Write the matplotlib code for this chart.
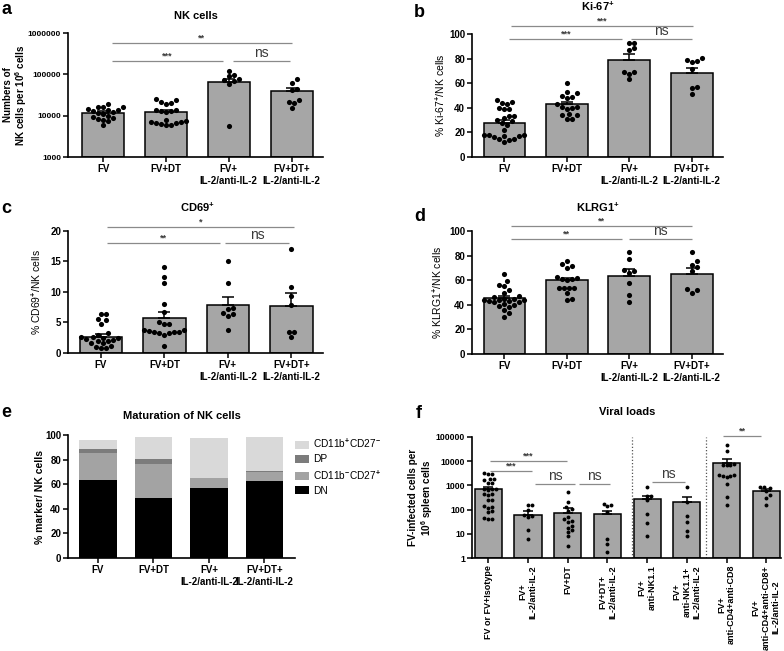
import numpy as np
import matplotlib
matplotlib.use("Agg")
import matplotlib.pyplot as plt
from matplotlib.patches import Patch

plt.rcParams['font.family'] = ['Liberation Sans', 'DejaVu Sans']
plt.rcParams['font.weight'] = 'bold'
plt.rcParams['mathtext.fontset'] = 'custom'
plt.rcParams['mathtext.rm'] = 'Liberation Sans'
plt.rcParams['mathtext.bf'] = 'Liberation Sans:bold'
plt.rcParams['mathtext.it'] = 'Liberation Sans:italic'

# ---------------- data ----------------
groups = ["FV", "FV+DT", "FV+\nIL-2/anti-IL-2", "FV+DT+\nIL-2/anti-IL-2"]

# a: NK cells per 10^6 cells
nk_mean = [11800, 12000, 67000, 39000]
nk_sem = [900, 1400, 11000, 7700]
nk_fv = [19000, 16500, 16500, 16000, 14500, 14000, 14000, 13000, 12500,
         11500, 11000, 10000, 9500, 9000, 8500, 8000, 7500, 6000]
nk_fvdt = [25500, 24500, 21000, 19500, 20500, 14000, 13500, 13000, 13000,
           12500, 8000, 7500, 7000, 7000, 6500, 6500, 6000, 6000, 6200]
nk_il2 = [120000, 95000, 90000, 75000, 72000, 70000, 58000, 5700]
nk_dtil2 = [77000, 63000, 43000, 41000, 24000, 22000, 20000, 15500]

# b: % Ki-67+
ki_mean = [27.4, 42.8, 78.6, 68.6]
ki_sem = [2.3, 2.2, 4.9, 4.1]
ki_fv = [46, 45, 44, 43, 40, 39, 39, 33, 33, 32, 30, 29, 28, 26, 22,
         18, 18, 18, 17, 17, 16, 15, 15, 14, 12]
ki_fvdt = [60, 53, 52, 50, 49, 48, 43, 41, 41, 40, 39, 35, 34, 34, 31, 31]
ki_il2 = [92.6, 92.6, 88.5, 87.2, 68.7, 68.7, 67.6, 63.5]
ki_dtil2 = [80.4, 78.5, 77.7, 77.0, 71.4, 56.7, 55.9, 51.2]

# c: % CD69+
cd69_mean = [2.7, 5.7, 7.9, 7.7]
cd69_sem = [0.4, 1.0, 1.2, 2.1]
cd69_fv = [6.4, 6.4, 5.6, 5.4, 4.8, 3.2, 2.9, 2.7, 2.6, 2.5, 2.4, 2.3, 2.2,
           2.0, 1.9, 1.7, 1.6, 1.2, 1.0, 0.8, 0.8]
cd69_fvdt = [14.1, 12.4, 11.4, 8.0, 6.8, 5.0, 4.8, 4.8, 3.8, 3.7, 3.6, 3.5,
             3.5, 3.4, 3.3, 3.2, 3.0, 1.2]
cd69_il2 = [15.1, 11.5, 7.4, 7.2, 6.6, 6.4, 6.0, 3.8]
cd69_dtil2 = [17.1, 10.8, 9.3, 7.8, 3.4, 3.4, 2.6]

# d: % KLRG1+
klrg_mean = [45.3, 59.8, 63.3, 65.0]
klrg_sem = [1.9, 2.2, 5.5, 4.6]
klrg_fv = [65, 59, 56, 55, 52, 50, 47, 46, 45, 45, 44, 44, 44, 43, 43, 42,
           42, 41, 40, 39, 38, 36, 33, 30]
klrg_fvdt = [75.5, 73, 71.5, 70, 63, 62, 61, 61, 60, 54, 54, 54, 54, 50, 45, 44]
klrg_il2 = [83, 77, 68, 67.5, 65.5, 58, 48, 42]
klrg_dtil2 = [83, 75.5, 72.3, 71, 67.5, 52.6, 52, 49.5]

# e: maturation (stacked %)
mat_dn = [63.2, 48.4, 57.3, 62.2]
mat_cd27 = [22.4, 28.2, 7.4, 7.6]     # CD11b-CD27+
mat_dp = [2.7, 3.8, 0.5, 1.1]
mat_cd11b = [7.6, 18.2, 32.1, 27.7]   # CD11b+CD27-
mat_labels = ["CD11b$^{+}$CD27$^{-}$", "DP", "CD11b$^{-}$CD27$^{+}$", "DN"]

# f: viral loads
vl_groups = ["FV or FV+Isotype", "FV+\nIL-2/anti-IL-2", "FV+DT",
             "FV+DT+\nIL-2/anti-IL-2", "FV+\nanti-NK1.1",
             "FV+\nanti-NK1.1+\nIL-2/anti-IL-2", "FV+\nanti-CD4+anti-CD8",
             "FV+\nanti-CD4+anti-CD8+\nIL-2/anti-IL-2"]
vl_mean = [730, 60, 74, 68, 275, 200, 8200, 590]
vl_sem = [160, 27, 39, 22, 100, 140, 3800, 120]
vl_1 = [3200, 3000, 3100, 1800, 1700, 1900, 1300, 1250, 700, 680, 650, 720,
        450, 430, 420, 250, 240, 140, 130, 120, 85, 80, 42, 40, 44]
vl_2 = [160, 150, 100, 60, 55, 50, 15, 6]
vl_3 = [520, 200, 130, 110, 90, 50, 40, 35, 30, 22, 18, 15, 12, 8, 3]
vl_4 = [160, 140, 170, 80, 6, 3.7, 1.8]
vl_5 = [830, 380, 370, 250, 66, 27, 8.5]
vl_6 = [830, 200, 56, 30, 13, 8]
vl_7 = [47000, 26000, 7500, 7000, 6800, 7200, 2600, 2500, 2400, 2300, 2700,
        1140, 320, 155]
vl_8 = [900, 850, 800, 600, 400, 300, 160]

# ---------------- layout helpers ----------------
W, H = 784, 651
fig = plt.figure(figsize=(W / 100, H / 100), dpi=100)
BAR = '#a6a6a6'
SIG = '#8a8a8a'


def axes_px(l, t, r, b):
    return fig.add_axes([l / W, 1 - b / H, (r - l) / W, (b - t) / H])


def ftext(x, y, s, **kw):
    fig.text(x / W, 1 - y / H, s, **kw)


def swarm_x(ax, xc, vals, d_px, max_px):
    vals = np.asarray(vals, float)
    pts = ax.transData.transform(np.column_stack([np.full(len(vals), xc), vals]))
    x0 = pts[0, 0]
    ys = pts[:, 1]
    step = d_px / 2.0
    cands = [0.0]
    k = 1
    while k * step <= max_px + 1e-9:
        cands += [k * step, -k * step]
        k += 1
    px, py = [], []
    offs = np.zeros(len(vals))
    for i in np.argsort(ys):
        best, bestd, bestc = None, -1.0, 0.0
        for c in cands:
            if px:
                dist = np.min(np.hypot(np.array(px) - c, np.array(py) - ys[i]))
            else:
                dist = np.inf
            if dist >= d_px:
                best = c
                break
            if dist > bestd:
                bestd, bestc = dist, c
        if best is None:
            best = bestc
        offs[i] = best
        px.append(best)
        py.append(ys[i])
    inv = ax.transData.inverted()
    return inv.transform(np.column_stack([x0 + offs, ys]))[:, 0]


def style(ax, xfs, yfs):
    for s in ['top', 'right']:
        ax.spines[s].set_visible(False)
    for s in ['left', 'bottom']:
        ax.spines[s].set_linewidth(1.2)
    ax.tick_params(axis='both', direction='out', length=3.5, width=1.1, pad=1.5)
    ax.tick_params(axis='x', labelsize=xfs)
    ax.tick_params(axis='y', labelsize=yfs)
    ax.minorticks_off()


def dot_panel(ax, means, sems, points, ylim, yticks, log, xlim, width,
              ms, dpx, maxpx, capsize, xfs, yfs):
    x = np.arange(len(means))
    if log:
        ax.set_yscale('log')
    ax.set_ylim(*ylim)
    ax.set_xlim(*xlim)
    bottom = ylim[0]
    ax.bar(x, np.array(means) - bottom, bottom=bottom, width=width, color=BAR,
           edgecolor='black', linewidth=1.1, zorder=2)
    ax.errorbar(x, means, yerr=[np.zeros(len(means)), sems], fmt='none',
                ecolor='black', elinewidth=1.1, capsize=capsize, capthick=1.1,
                zorder=3)
    for xi, pts in zip(x, points):
        xs = swarm_x(ax, xi, pts, dpx, maxpx)
        ax.plot(xs, pts, 'o', color='black', ms=ms, mew=0, zorder=4,
                clip_on=False)
    ax.set_yticks(yticks)
    ax.set_yticklabels([f"{int(t)}" for t in yticks])
    style(ax, xfs, yfs)
    ax.minorticks_off()


def ylab(ax, text, right_px, left_px, width_px, **kw):
    ax.set_ylabel(text, **kw)
    ax.yaxis.set_label_coords((right_px - left_px) / width_px, 0.5)


def sig(ax, x1, x2, y, label):
    ax.plot([x1, x2], [y, y], color=SIG, lw=0.9, clip_on=False, zorder=5,
            solid_capstyle='butt')
    if label == 'ns':
        ax.annotate('ns', ((x1 + x2) / 2, y), xytext=(0, 0.8),
                    textcoords='offset points', ha='center', va='bottom',
                    fontsize=10, fontweight='normal', color='#3a3a3a',
                    annotation_clip=False)
    else:
        ax.annotate(label, ((x1 + x2) / 2, y), xytext=(0, 0.3),
                    textcoords='offset points', ha='center', va='bottom',
                    fontsize=6.5, fontweight='bold', color='#3a3a3a',
                    annotation_clip=False)


XL = (-0.52, 3.5)

# ---------------- panel a ----------------
axa = axes_px(68, 33, 323, 157)
dot_panel(axa, nk_mean, nk_sem, [nk_fv, nk_fvdt, nk_il2, nk_dtil2],
          (1000, 1e6), [1000, 10000, 100000, 1000000], True, (-0.56, 3.5),
          0.67, 3.7, 5.0, 20, 4.6, 7, 6.0)
axa.set_xticks(range(4))
axa.set_xticklabels(groups)
ylab(axa, "Numbers of\nNK cells per 10$^{\\mathbf{6}}$ cells", 29, 68, 255,
     fontsize=7.1, fontweight='bold', linespacing=1.05)
sig(axa, 0.14, 3.0, 5.6e5, '**')
sig(axa, 0.14, 1.9, 2.1e5, '***')
sig(axa, 2.06, 2.98, 2.1e5, 'ns')

# ---------------- panel b ----------------
axb = axes_px(472, 34, 723, 157)
dot_panel(axb, ki_mean, ki_sem, [ki_fv, ki_fvdt, ki_il2, ki_dtil2],
          (0, 100), [0, 20, 40, 60, 80, 100], False, XL,
          0.67, 3.7, 5.0, 20, 4.6, 7, 7)
axb.set_xticks(range(4))
axb.set_xticklabels(groups)
ylab(axb, "% Ki-67$^{+}$/NK cells", 447, 472, 251, fontsize=7.5,
     fontweight='normal')
sig(axb, 0.11, 3.02, 106.5, '***')
sig(axb, 0.08, 1.89, 95.7, '***')
sig(axb, 2.02, 3.0, 95.7, 'ns')

# ---------------- panel c ----------------
axc = axes_px(68, 231, 323, 353)
dot_panel(axc, cd69_mean, cd69_sem, [cd69_fv, cd69_fvdt, cd69_il2, cd69_dtil2],
          (0, 20), [0, 5, 10, 15, 20], False, XL,
          0.67, 3.7, 5.0, 20, 4.6, 7, 7)
axc.set_xticks(range(4))
axc.set_xticklabels(groups)
ylab(axc, "% CD69$^{+}$/NK cells", 43, 68, 255, fontsize=7.5,
     fontweight='normal')
sig(axc, 0.09, 3.05, 20.6, '*')
sig(axc, 0.09, 1.88, 18.0, '**')
sig(axc, 1.96, 2.97, 18.0, 'ns')

# ---------------- panel d ----------------
axd = axes_px(472, 231, 723, 354)
dot_panel(axd, klrg_mean, klrg_sem, [klrg_fv, klrg_fvdt, klrg_il2, klrg_dtil2],
          (0, 100), [0, 20, 40, 60, 80, 100], False, XL,
          0.67, 3.7, 5.0, 20, 4.6, 7, 7)
axd.set_xticks(range(4))
axd.set_xticklabels(groups)
ylab(axd, "% KLRG1$^{+}$/NK cells", 444, 472, 251, fontsize=7.5,
     fontweight='normal')
sig(axd, 0.11, 3.0, 104, '**')
sig(axd, 0.11, 1.89, 93.3, '**')
sig(axd, 1.99, 3.0, 93.3, 'ns')

# ---------------- panel e ----------------
axe = axes_px(68, 435, 295, 558)
xe = np.arange(4)
c_dn, c_27, c_dp, c_11 = '#000000', '#a3a3a3', '#7c7c7c', '#d9d9d9'
b1 = np.array(mat_dn)
b2 = b1 + np.array(mat_cd27)
b3 = b2 + np.array(mat_dp)
axe.bar(xe, mat_dn, width=0.68, color=c_dn, zorder=2)
axe.bar(xe, mat_cd27, bottom=b1, width=0.68, color=c_27, zorder=2)
axe.bar(xe, mat_dp, bottom=b2, width=0.68, color=c_dp, zorder=2)
axe.bar(xe, mat_cd11b, bottom=b3, width=0.68, color=c_11, zorder=2)
axe.set_xlim(-0.54, 3.55)
axe.set_ylim(0, 100)
axe.set_yticks([0, 20, 40, 60, 80, 100])
axe.set_xticks(range(4))
axe.set_xticklabels(groups)
style(axe, 7, 7)
ylab(axe, "% marker/ NK cells", 45, 68, 227, fontsize=7.5, fontweight='bold')
handles = [Patch(facecolor=c_11, label=mat_labels[0]),
           Patch(facecolor=c_dp, label=mat_labels[1]),
           Patch(facecolor=c_27, label=mat_labels[2]),
           Patch(facecolor=c_dn, label=mat_labels[3])]
axe.legend(handles=handles, loc='upper left',
           bbox_to_anchor=(295 / W, 1 - 437 / H), bbox_transform=fig.transFigure,
           frameon=False, prop={'size': 7.3, 'weight': 'normal'},
           handlelength=1.4, handleheight=0.8, handletextpad=0.4,
           labelspacing=0.4, borderaxespad=0, borderpad=0)

# ---------------- panel f ----------------
axf = axes_px(472, 437, 781, 558)
dot_panel(axf, vl_mean, vl_sem, [vl_1, vl_2, vl_3, vl_4, vl_5, vl_6, vl_7, vl_8],
          (1, 1e5), [1, 10, 100, 1000, 10000, 100000], True, (-0.41, 7.37),
          0.68, 2.8, 3.9, 12, 3.6, 6.5, 6.3)
axf.set_xticks(range(8))
axf.set_xticklabels(vl_groups, rotation=90, ha='center', va='top',
                    multialignment='center', linespacing=1.15)
ylab(axf, "FV-infected cells per\n10$^{\\mathbf{6}}$ spleen cells", 435, 472,
     309, fontsize=7.2, fontweight='bold', linespacing=1.1)
for xv in (3.62, 5.48):
    axf.axvline(xv, color='#555555', lw=0.9, ls=(0, (1, 1.6)), zorder=1)
sig(axf, 0.05, 1.97, 1.0e4, '***')
sig(axf, 0.05, 1.09, 4.0e3, '***')
sig(axf, 1.18, 2.18, 1.1e3, 'ns')
sig(axf, 2.29, 3.07, 1.1e3, 'ns')
sig(axf, 4.12, 4.95, 1.4e3, 'ns')
sig(axf, 5.92, 6.86, 1.1e5, '**')

# ---------------- titles and panel letters ----------------
tkw = dict(ha='center', va='baseline', fontsize=8, fontweight='bold')
ftext(196, 19, "NK cells", **tkw)
ftext(598, 11, "Ki-67$^{\\mathbf{+}}$", **tkw)
ftext(197, 211.5, "CD69$^{\\mathbf{+}}$", **tkw)
ftext(598, 211.5, "KLRG1$^{\\mathbf{+}}$", **tkw)
ftext(182, 419, "Maturation of NK cells", **tkw)
ftext(627, 415, "Viral loads", **tkw)

lkw = dict(ha='left', va='baseline', fontsize=13, fontweight='bold')
ftext(2, 14, "a", **lkw)
ftext(414, 17, "b", **lkw)
ftext(1, 213, "c", **lkw)
ftext(414, 221, "d", **lkw)
ftext(1, 417, "e", **lkw)
ftext(416, 418, "f", **lkw)

fig.savefig("out.png", dpi=100)
